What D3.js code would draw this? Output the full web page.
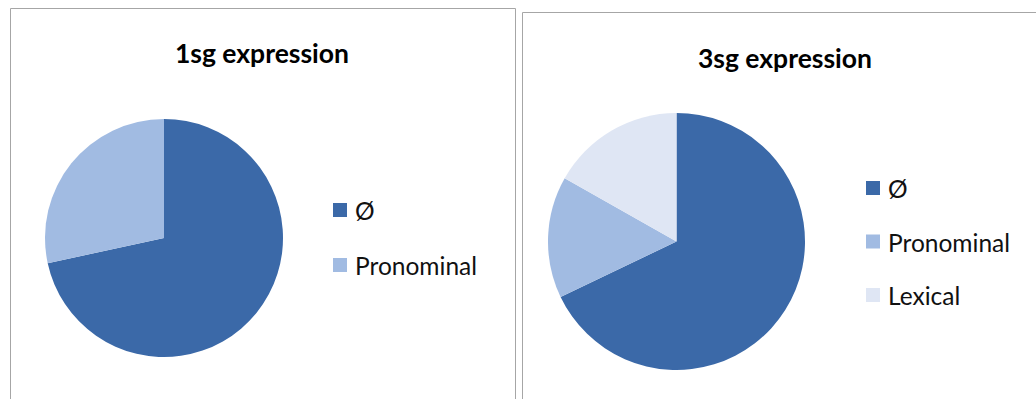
<!DOCTYPE html>
<html>
<head>
<meta charset="utf-8">
<script src="https://cdn.jsdelivr.net/npm/d3@7"></script>
<style>
body { margin: 0; background: #fff; }
</style>
</head>
<body>
<svg id="chart"></svg>
<script>
// values (percent)
var labels1 = ["Ø", "Pronominal"];
var values1 = [71.6, 28.4];
var labels3 = ["Ø", "Pronominal", "Lexical"];
var values3 = [67.9, 15.3, 16.8];
var titles = ["1sg expression", "3sg expression"];

var W = 1036, H = 399;
var colors = d3.scaleOrdinal()
  .domain(["Ø", "Pronominal", "Lexical"])
  .range(["#3b69a8", "#a1bbe2", "#dfe6f4"]);

var svg = d3.select("#chart").attr("width", W).attr("height", H);

var panels = [
  {x: 10.5, y: 8.5, w: 505, title: titles[0], tx: 262, ty: 63, cx: 164, cy: 238, r: 119,
   labels: labels1, values: values1, lx: 333, ly: 203, step: 55},
  {x: 522.5, y: 12.5, w: 540, title: titles[1], tx: 785, ty: 68, cx: 676.5, cy: 241.5, r: 128.5,
   labels: labels3, values: values3, lx: 866, ly: 181, step: 53.5}
];

var pie = d3.pie().sort(null);

panels.forEach(function(p) {
  // frame: top, left, right edges (bottom runs off the picture)
  svg.append("path")
    .attr("d", "M" + p.x + "," + (H + 5) + "V" + p.y + "H" + (p.x + p.w) + "V" + (H + 5))
    .attr("fill", "none")
    .attr("stroke", "#a6a6a6")
    .attr("stroke-width", 1);

  svg.append("text")
    .attr("x", p.tx)
    .attr("y", p.ty)
    .attr("text-anchor", "middle")
    .style("font", "bold 26.5px Lato, 'Open Sans', sans-serif")
    .text(p.title);

  var arc = d3.arc().innerRadius(0).outerRadius(p.r);
  var arcs = pie(p.values);

  svg.append("g")
    .attr("transform", "translate(" + p.cx + "," + p.cy + ")")
    .selectAll("path")
    .data(arcs)
    .enter()
    .append("path")
    .attr("d", arc)
    .attr("fill", function(d, i) { return colors(p.labels[i]); });

  var leg = svg.append("g")
    .selectAll("g")
    .data(p.labels)
    .enter()
    .append("g")
    .attr("transform", function(d, i) {
      return "translate(" + p.lx + "," + (p.ly + i * p.step) + ")";
    });

  leg.append("rect")
    .attr("width", 14)
    .attr("height", 14)
    .attr("fill", function(d) { return colors(d); });

  leg.append("text")
    .attr("x", 22)
    .attr("y", 17)
    .style("font", "24.5px Lato, 'Open Sans', sans-serif")
    .attr("fill", "#111")
    .text(function(d) { return d; });
});
</script>
</body>
</html>
